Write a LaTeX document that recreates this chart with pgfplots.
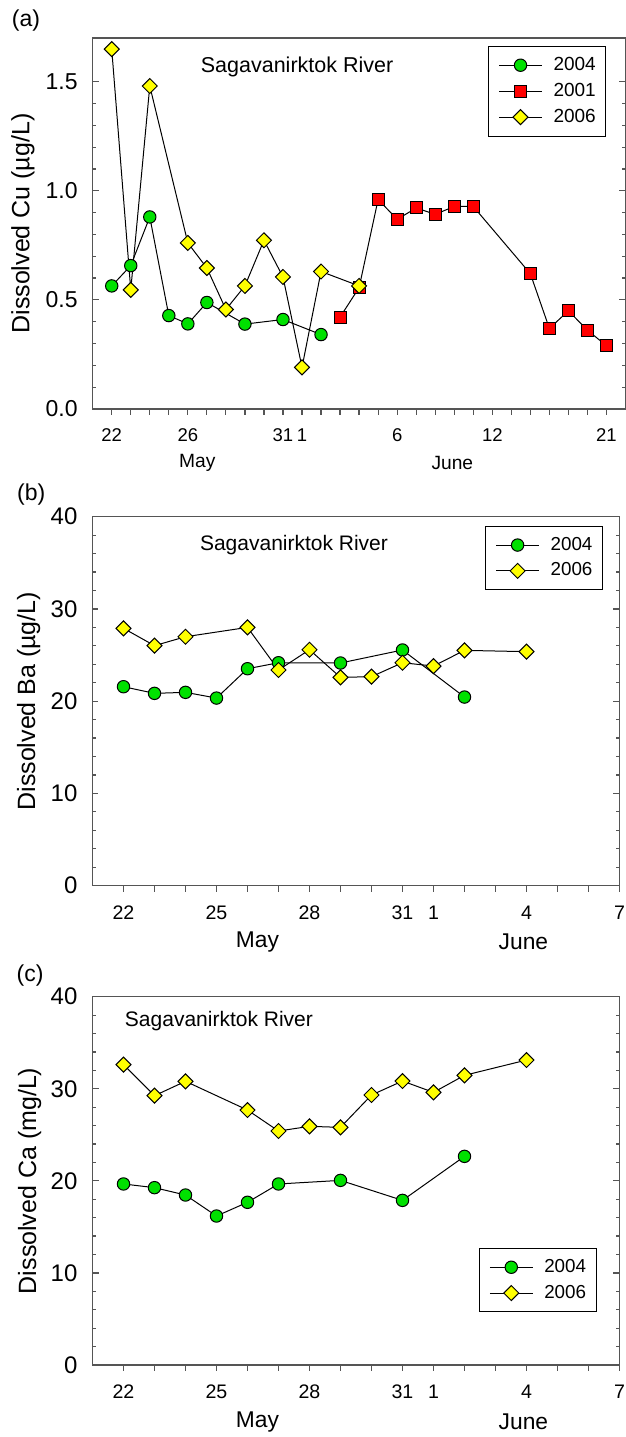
\documentclass[border=0pt]{standalone}
\usepackage{fontspec}
\setmainfont{Liberation Sans}
\usepackage{pgfplots}
\pgfplotsset{compat=1.18}

\definecolor{mkgreen}{RGB}{0,225,0}
\definecolor{mkred}{RGB}{255,0,0}
\definecolor{mkyellow}{RGB}{255,255,0}
\definecolor{framegray}{RGB}{85,85,85}

\newcommand{\fs}[1]{\fontsize{#1}{#1}\selectfont}

\pgfplotsset{
  river/.style={
    scale only axis,
    anchor=south west,
    axis line style={framegray, line width=0.75pt},
    tick align=inside,
    tick style={framegray, line width=0.6pt},
    major tick length=3pt,
    minor tick length=1.8pt,
    xtick pos=left,
    ytick pos=both,
    every x tick/.append style={yshift=-3pt},
    minor y tick num=4,
    ymin=0,
    clip=false,
    xticklabel style={yshift=-6.5pt},
    yticklabel style={xshift=-4pt},
    /pgf/number format/assume math mode=true,
    legend cell align=left,
    legend image code/.code={
      \draw[mark repeat=2,mark phase=2,##1]
        plot coordinates {(0pt,0pt) (10.75pt,0pt) (21.5pt,0pt)};
    },
    legend style={draw=black, line width=0.5pt, inner xsep=5pt, inner ysep=3.9pt,
      row sep=1.85pt, column sep=5.5pt, nodes={inner xsep=0pt, inner ysep=1.5pt}},
  },
  s2004/.style={black, line width=0.5pt, mark=*, mark size=3.1pt,
    mark options={fill=mkgreen, draw=black, line width=0.5pt}},
  s2001/.style={black, line width=0.5pt, mark=square*, mark size=3pt,
    mark options={fill=mkred, draw=black, line width=0.5pt}},
  s2006/.style={black, line width=0.5pt, mark=square*, mark size=2.65pt,
    mark options={fill=mkyellow, draw=black, line width=0.5pt, rotate=45}},
}

\begin{document}
\begin{tikzpicture}

% ---------------- (a) dissolved copper ----------------
\begin{axis}[river,
  at={(46.35pt,514pt)}, width=266.4pt, height=185.5pt,
  xmin=-1, xmax=27, ymax=1.7,
  xtick={0,...,26},
  xticklabels={22,,,,26,,,,,31,1,,,,,6,,,,,12,,,,,,21},
  xticklabel style={font=\fs{9.25}},
  ytick={0,0.5,1,1.5},
  yticklabels={0.0,0.5,1.0,1.5},
  yticklabel style={font=\fs{11.5}},
  ylabel={Dissolved Cu (µg/L)},
  ylabel style={at={(axis description cs:-0.131,0.5)}, anchor=center, font=\fs{12.5}},
  legend style={at={(axis description cs:0.742,0.979)}, anchor=north west, font=\fs{9.5}},
]
\addplot[s2004] coordinates {
  (0,0.564) (1,0.657) (2,0.880) (3,0.428) (4,0.390) (5,0.488)
  (7,0.389) (9,0.410) (11,0.341)};
\addlegendentry{2004}
\addplot[s2001] coordinates {
  (12,0.421) (13,0.556) (14,0.960) (15,0.869) (16,0.921) (17,0.892)
  (18,0.928) (19,0.928) (22,0.620) (23,0.369) (24,0.450) (25,0.361) (26,0.290)};
\addlegendentry{2001}
\addplot[s2006] coordinates {
  (0,1.649) (1,0.546) (2,1.480) (4,0.761) (5,0.646) (6,0.456) (7,0.564)
  (8,0.773) (9,0.605) (10,0.191) (11,0.630) (13,0.564)};
\addlegendentry{2006}
\node[font=\fs{10.75}] at (axis cs:9.74,1.568) {Sagavanirktok River};
\node[font=\fs{9.6}, yshift=-27pt] at (axis cs:4.5,0) {May};
\node[font=\fs{9.6}, yshift=-27pt] at (axis cs:17.9,0) {June};
\end{axis}

% ---------------- (b) dissolved barium ----------------
\begin{axis}[river,
  at={(46.25pt,275.65pt)}, width=263.5pt, height=184.5pt,
  xmin=-1, xmax=16, ymax=40,
  xtick={0,...,16},
  xticklabels={22,,,25,,,28,,,31,1,,,4,,,7},
  xticklabel style={font=\fs{9.8}},
  ytick={0,10,20,30,40},
  yticklabels={0,10,20,30,40},
  yticklabel style={font=\fs{12}},
  ylabel={Dissolved Ba (µg/L)},
  ylabel style={at={(axis description cs:-0.121,0.5)}, anchor=center, font=\fs{12.5}},
  legend style={at={(axis description cs:0.745,0.9756)}, anchor=north west, font=\fs{9.4}},
]
\addplot[s2004] coordinates {
  (0,21.57) (1,20.85) (2,20.96) (3,20.34) (4,23.52) (5,24.17)
  (7,24.14) (9,25.55) (11,20.45)};
\addlegendentry{2004}
\addplot[s2006] coordinates {
  (0,27.90) (1,26.02) (2,26.99) (4,28.00) (5,23.38) (6,25.58) (7,22.58)
  (8,22.66) (9,24.17) (10,23.81) (11,25.51) (13,25.37)};
\addlegendentry{2006}
\node[font=\fs{10.5}] at (axis cs:5.5,36.9) {Sagavanirktok River};
\node[font=\fs{11.4}, yshift=-28pt] at (axis cs:4.32,0) {May};
\node[font=\fs{11.4}, yshift=-28pt] at (axis cs:12.9,0) {June};
\end{axis}

% ---------------- (c) dissolved calcium ----------------
\begin{axis}[river,
  at={(46.25pt,36pt)}, width=263.5pt, height=184.15pt,
  xmin=-1, xmax=16, ymax=40,
  xtick={0,...,16},
  xticklabels={22,,,25,,,28,,,31,1,,,4,,,7},
  xticklabel style={font=\fs{9.8}},
  ytick={0,10,20,30,40},
  yticklabels={0,10,20,30,40},
  yticklabel style={font=\fs{12}},
  ylabel={Dissolved Ca (mg/L)},
  ylabel style={at={(axis description cs:-0.119,0.5)}, anchor=center, font=\fs{12.5}},
  legend style={at={(axis description cs:0.733,0.318)}, anchor=north west, font=\fs{9.4}},
]
\addplot[s2004] coordinates {
  (0,19.66) (1,19.26) (2,18.46) (3,16.18) (4,17.67) (5,19.66)
  (7,20.05) (9,17.88) (11,22.66)};
\addlegendentry{2004}
\addplot[s2006] coordinates {
  (0,32.62) (1,29.25) (2,30.81) (4,27.69) (5,25.41) (6,25.92) (7,25.81)
  (8,29.32) (9,30.84) (10,29.61) (11,31.46) (13,33.12)};
\addlegendentry{2006}
\node[font=\fs{10.5}, anchor=west] at (axis cs:-0.18,37.3) {Sagavanirktok River};
\node[font=\fs{11.4}, yshift=-28.5pt] at (axis cs:4.32,0) {May};
\node[font=\fs{11.4}, yshift=-28.5pt] at (axis cs:12.9,0) {June};
\end{axis}

% panel letters
\node[font=\fs{11.5}] at (13pt,708pt) {(a)};
\node[font=\fs{11.5}] at (15.6pt,471pt) {(b)};
\node[font=\fs{11.5}] at (15pt,230.5pt) {(c)};

\pgfresetboundingbox
\path[use as bounding box] (0pt,0pt) rectangle (313pt,718.5pt);
\end{tikzpicture}
\end{document}
